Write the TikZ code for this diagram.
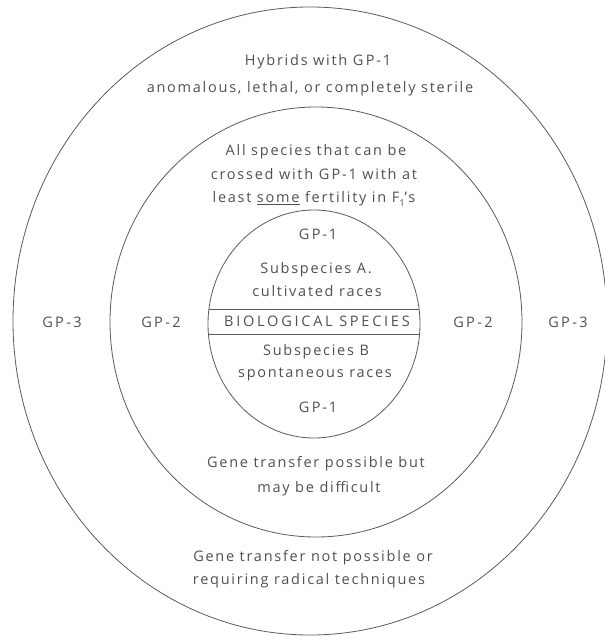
\documentclass[tikz,border=0pt]{standalone}
\usepackage{fontspec}
\setmainfont{Open Sans}[LetterSpace=12.0]
\definecolor{ink}{HTML}{505050}
\definecolor{rule}{HTML}{5A5A5A}
\begin{document}
\begin{tikzpicture}[x=1pt,y=-1pt,
  lbl/.style={text=ink,inner sep=0pt,anchor=mid,font=\fontsize{14.5}{17}\selectfont},
  ring/.style={draw=rule,line width=0.8pt}]
\useasboundingbox (0,0) rectangle (605,640);
\clip (0,0) rectangle (605,640);

% gene pool rings
\draw[ring] (310,321) ellipse [x radius=297pt, y radius=314pt];
\draw[ring] (316,322) ellipse [x radius=206pt, y radius=215pt];
\draw[ring] (314,324) ellipse [x radius=106pt, y radius=114pt];

% band across the inner ring
\begin{scope}
  \clip (314,324) ellipse [x radius=106pt, y radius=114pt];
  \coordinate (bl1) at (200,309); \coordinate (br1) at (430,309);
  \coordinate (bl2) at (200,334); \coordinate (br2) at (430,334);
  \draw[ring] (bl1) -- (br1);
  \draw[ring] (bl2) -- (br2);
\end{scope}

% outer ring (GP-3)
\node[lbl] (h1) at (318,63) {Hybrids with G\,P-1};
\node[lbl] (h2) at (310,90) {anomalous, lethal, or completely sterile};
\node[lbl] (g3l) at (62,325) {G\,P\,-\,3};
\node[lbl] (g3r) at (568,325) {G\,P\,-\,3};
\node[lbl] (n1) at (313,559) {Gene transfer not possible or};
\node[lbl] (n2) at (309,582) {requiring radical techniques};

% middle ring (GP-2)
\node[lbl] (a1) at (316,153) {All species that can be};
\node[lbl] (a2) at (314,177) {crossed with G\,P-1 with at};
\node[lbl] (a3) at (314,200) {least \underline{some} fertility in F\raisebox{-0.45ex}{\fontsize{9.5}{10}\selectfont 1}'s};
\node[lbl] (g2l) at (161,325) {G\,P\,-\,2};
\node[lbl] (g2r) at (473,325) {G\,P\,-\,2};
\node[lbl] (p1) at (316,465) {Gene transfer possible but};
\node[lbl] (p2) at (319,490) {may be difficult};

% inner ring (GP-1)
\node[lbl] (t1) at (318,237) {G\,P-1};
\node[lbl] (sa1) at (316,271) {Subspecies A.};
\node[lbl] (sa2) at (317,294) {cultivated races};
\node[lbl] (bio) at (317,323.5) {\addfontfeatures{LetterSpace=19.0}BIOLOGICAL SPECIES};
\node[lbl] (sb1) at (316,353) {Subspecies B};
\node[lbl] (sb2) at (315,375) {spontaneous races};
\node[lbl] (t2) at (318,410) {G\,P-1};
\end{tikzpicture}
\end{document}
